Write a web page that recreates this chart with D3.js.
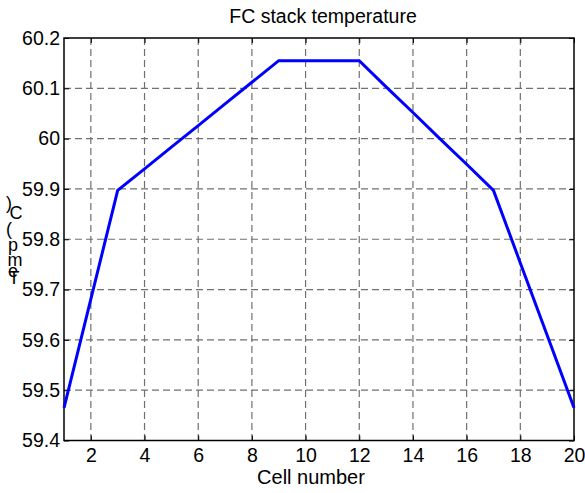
<!DOCTYPE html>
<html><head><meta charset="utf-8">
<script src="https://cdn.jsdelivr.net/npm/d3@7"></script>
<style>body{margin:0;background:#fff}text{font-family:"Liberation Sans",Arial,sans-serif;fill:#000}</style>
</head><body>
<svg id="c" width="585" height="493"></svg>
<script>
const cells = [1,2,3,4,5,6,7,8,9,10,11,12,13,14,15,16,17,18,19,20];
const temps = [59.465,59.681,59.897,59.940,59.983,60.026,60.069,60.112,60.155,60.155,60.155,60.155,60.103,60.052,60.000,59.949,59.897,59.753,59.609,59.465];
const xTicks = [2,4,6,8,10,12,14,16,18,20];
const yTicks = [59.4,59.5,59.6,59.7,59.8,59.9,60,60.1,60.2];
const title = "FC stack temperature";
const xLabel = "Cell number";
const yLabelChars = ["T","e","m","p","(","C",")"];

const L=64,R=574,T=38,B=440.5;
const svg=d3.select("#c");
const x=d3.scaleLinear().domain([1,20]).range([L,R]);
const y=d3.scaleLinear().domain([59.4,60.2]).range([B,T]);

// grid
const g=svg.append("g");
g.selectAll("line.vx").data(xTicks.filter(d=>d<20)).join("line")
 .attr("x1",d=>x(d)).attr("x2",d=>x(d)).attr("y1",T).attr("y2",B)
 .attr("stroke","#707070").attr("stroke-width",1.2).attr("stroke-dasharray","7,4");
g.selectAll("line.hy").data(yTicks.filter(d=>d>59.4&&d<60.2)).join("line")
 .attr("x1",L).attr("x2",R).attr("y1",d=>y(d)).attr("y2",d=>y(d))
 .attr("stroke","#707070").attr("stroke-width",1.2).attr("stroke-dasharray","7,4");

// axes with inward ticks
const fmt=d=>d3.format("")(d);
const ax=(gen)=>gen.tickSizeInner(-5).tickSizeOuter(0).tickPadding(9);
const xb=svg.append("g").attr("transform",`translate(0,${B})`).call(ax(d3.axisBottom(x).tickValues(xTicks).tickFormat(fmt)));
const xt=svg.append("g").attr("transform",`translate(0,${T})`).call(ax(d3.axisTop(x).tickValues(xTicks)).tickFormat(""));
const yl=svg.append("g").attr("transform",`translate(${L},0)`).call(ax(d3.axisLeft(y).tickValues(yTicks).tickFormat(d=>d3.format(".1f")(d).replace(/\.0$/,""))).tickPadding(4));
const yr=svg.append("g").attr("transform",`translate(${R},0)`).call(ax(d3.axisRight(y).tickValues(yTicks)).tickFormat(""));
[xb,xt,yl,yr].forEach(a=>{a.select(".domain").remove();a.selectAll("line").attr("stroke","#000");a.selectAll("text").style("font-size","19.5px").style("font-family","'Liberation Sans',Arial,sans-serif").attr("fill","#000");});
xb.selectAll("text").attr("dy","0.65em");
svg.append("rect").attr("x",L).attr("y",T).attr("width",R-L).attr("height",B-T)
 .attr("fill","none").attr("stroke","#000").attr("stroke-width",1.5);

// line
svg.append("path").datum(cells.map((c,i)=>[c,temps[i]]))
 .attr("d",d3.line().x(d=>x(d[0])).y(d=>y(d[1])))
 .attr("fill","none").attr("stroke","#0000ff").attr("stroke-width",3).attr("stroke-linejoin","miter");

// title & labels
svg.append("text").attr("x",323).attr("y",23).attr("text-anchor","middle").style("font-size","19.5px").text(title);
svg.append("text").attr("x",311).attr("y",484).attr("text-anchor","middle").style("font-size","20px").text(xLabel);
const ypos=[[14,284],[13,277],[15,266],[13,251],[9,235],[16,219],[9,209]];
svg.selectAll("text.yl").data(yLabelChars).join("text").attr("class","yl")
 .attr("x",(d,i)=>ypos[i][0]).attr("y",(d,i)=>ypos[i][1]).attr("text-anchor","middle")
 .style("font-size","18px").text(d=>d);
</script>
</body></html>
